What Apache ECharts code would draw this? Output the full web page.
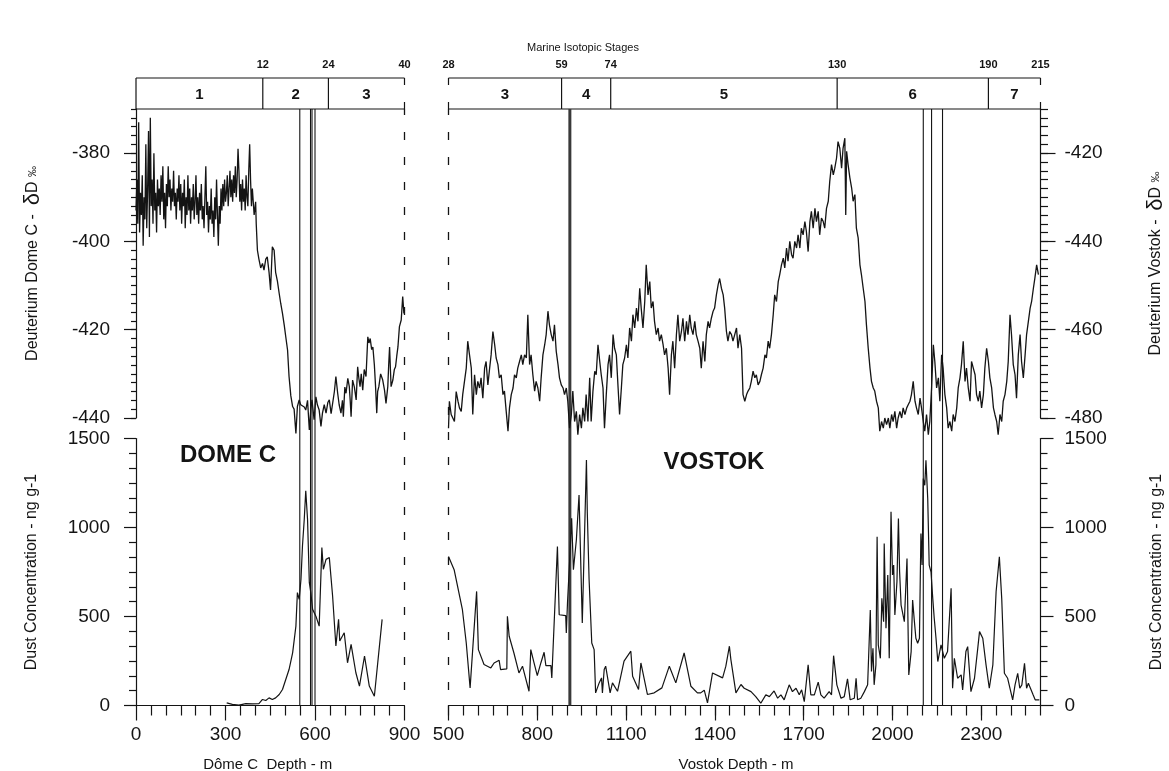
<!DOCTYPE html>
<html>
<head>
<meta charset="utf-8">
<script src="https://cdn.jsdelivr.net/npm/echarts@6/dist/echarts.min.js"></script>
<style>html,body{margin:0;padding:0;background:#fff}#c{width:1169px;height:771px}</style>
</head>
<body>
<div id="c"></div>
<script>
// ---------------- DATA ----------------
// Dome C deuterium (depth m, deltaD permil)
const domeDeuterium = [
[0,-393],[3,-386],[6,-396],[9,-373],[12,-398],[15,-389],[18,-394],[21,-385],[24,-401],[27,-390],[30,-395],[33,-378],[36,-397],[39,-388],[42,-375],[45,-399],[48,-372],[51,-392],[54,-386],[57,-396],[60,-380],[63,-393],[66,-389],[69,-398],[72,-386],[75,-392],[78,-388],[81,-394],[84,-385],[87,-391],[90,-383],[93,-395],[96,-389],[99,-397],[102,-387],[105,-392],[108,-383],[111,-390],[114,-386],[117,-393],[120,-388],[123,-391],[126,-384],[129,-392],[132,-389],[135,-395],[138,-388],[141,-391],[144,-385],[147,-393],[150,-387],[153,-396],[156,-389],[159,-392],[162,-386],[165,-397],[168,-390],[171,-394],[174,-385],[177,-393],[180,-388],[183,-396],[186,-390],[189,-393],[192,-387],[195,-395],[198,-391],[201,-385],[204,-394],[207,-390],[210,-396],[213,-389],[216,-393],[219,-387],[222,-395],[225,-392],[228,-397],[231,-390],[234,-383],[237,-394],[240,-391],[243,-398],[246,-392],[249,-395],[252,-388],[255,-396],[258,-393],[261,-399],[264,-390],[267,-395],[270,-386],[273,-394],[276,-401],[279,-392],[282,-396],[285,-388],[288,-393],[291,-387],[294,-392],[297,-386],[300,-391],[303,-389],[306,-385],[309,-392],[312,-388],[315,-384],[318,-390],[321,-386],[324,-391],[327,-385],[330,-389],[333,-383],[336,-390],[339,-386],[342,-379],[345,-384],[348,-391],[351,-387],[354,-393],[357,-386],[360,-391],[363,-388],[366,-393],[369,-385],[372,-390],[375,-392],[378,-384],[381,-378],[384,-386],[387,-392],[390,-388],
[396,-394],[401,-391],[403,-396],[407,-402],[412,-404],[418,-406],[424,-405],[429,-406.5],[435,-404],[440,-403.5],[446,-407],[451,-411],[457,-401.2],[463,-402],[468,-407],[474,-409],[480,-411.8],[485,-414],[491,-416.3],[497,-419],[502,-421.6],[508,-424.6],[513,-430.6],[519,-435],[525,-437.4],[530,-438],[536,-443.5],[541,-437.4],[547,-435.9],[552,-437],[558,-436.7],[564,-437.5],[569,-438.2],[575,-436],[581,-442.7],[586,-438],[590,-435.9],[597,-440.4],[603,-435.2],[608,-437],[614,-438.2],[620,-441.9],[625,-438.9],[631,-437],[637,-438.9],[643,-436.5],[648,-435.9],[654,-439],[659,-438.9],[665,-434],[670,-430.6],[676,-434.4],[681,-437],[687,-438.9],[692,-436],[695,-439.7],[700,-433],[704,-434.4],[710,-431],[715,-432.9],[718,-436],[721,-439.7],[726,-431.4],[732,-433],[738,-435.9],[743,-428.4],[747,-431],[751,-432.9],[755,-430],[760,-433.7],[765,-429],[771,-430.6],[777,-421.6],[781,-423],[785,-422],[790,-424.5],[794,-423.9],[799,-428],[803,-432.9],[807,-438.9],[810,-434],[814,-432.9],[820,-430],[827,-431.4],[833,-433.7],[838,-436.7],[844,-432.9],[847,-428],[850,-423.9],[855,-432.9],[861,-431.4],[866,-429],[870,-428.4],[874,-426],[878,-423.9],[883,-419.3],[889,-417.8],[894,-412.5],[898,-416.3],[900,-415.5]
];

// Vostok deuterium (depth m, deltaD permil)
const vostokDeuterium = [
[500,-482.3],[503,-476.2],[509,-479.2],[520,-480.8],[526,-474.0],[532,-476.2],[537,-477.7],[543,-478.5],[548,-474.7],[560,-468.7],[565,-462.6],[571,-465.7],[577,-468.7],[582,-479.2],[588,-470.2],[594,-474.7],[599,-471.7],[605,-473.2],[610,-470.9],[616,-475.5],[622,-468.7],[627,-467.2],[633,-472.5],[639,-468.7],[644,-465.7],[650,-460.4],[656,-463.4],[661,-466.4],[667,-467.9],[672,-470.9],[678,-470.2],[684,-474.7],[689,-473.9],[695,-478.5],[701,-483.0],[706,-477.7],[712,-474.7],[718,-473.2],[723,-470.2],[729,-470.9],[734,-468.7],[740,-467.2],[746,-465.7],[751,-467.9],[757,-465.7],[763,-466.4],[768,-456.6],[774,-467.9],[779,-465.7],[785,-470.2],[791,-473.9],[796,-471.7],[802,-473.2],[808,-476.2],[813,-470.9],[819,-465.7],[825,-463.4],[830,-461.1],[836,-455.8],[841,-458.9],[847,-461.1],[853,-462.6],[858,-458.9],[864,-464.9],[870,-467.9],[875,-470.9],[881,-472.5],[887,-473.2],[892,-474.7],[898,-473.2],[903,-476.2],[909,-482.3],[915,-479.2],[920,-473.9],[926,-480.8],[932,-478.5],[937,-483.8],[943,-479.2],[949,-482.3],[954,-477.7],[960,-480.8],[965,-474.7],[971,-480.8],[977,-470.9],[982,-480.8],[988,-473.9],[994,-469.4],[999,-470.2],[1005,-463.4],[1011,-467.2],[1016,-470.2],[1022,-473.2],[1027,-482.3],[1033,-474.7],[1039,-467.9],[1044,-465.7],[1050,-470.9],[1056,-461.1],[1061,-464.2],[1067,-465.7],[1073,-473.2],[1078,-479.2],[1084,-473.2],[1089,-467.9],[1095,-466.4],[1101,-463.4],[1106,-466.4],[1112,-459.6],[1118,-462.6],[1123,-456.6],[1129,-459.6],[1135,-455.1],[1140,-458.1],[1146,-450.6],[1151,-455.1],[1157,-459.6],[1163,-453.6],[1168,-445.3],[1174,-452.1],[1180,-449.1],[1185,-455.1],[1191,-453.6],[1196,-458.1],[1202,-461.1],[1208,-459.6],[1213,-462.6],[1219,-461.1],[1225,-463.4],[1230,-465.7],[1236,-464.2],[1242,-468.7],[1247,-474.7],[1253,-465.7],[1258,-462.6],[1264,-468.7],[1270,-461.1],[1275,-456.6],[1281,-462.6],[1287,-460.4],[1292,-457.4],[1298,-462.6],[1304,-458.1],[1309,-461.1],[1315,-456.6],[1320,-459.6],[1326,-461.1],[1332,-458.1],[1337,-461.1],[1343,-462.6],[1349,-464.2],[1354,-468.7],[1360,-462.6],[1366,-467.2],[1371,-461.1],[1377,-458.1],[1382,-459.6],[1388,-457.4],[1394,-455.8],[1399,-455.1],[1405,-452.1],[1411,-449.8],[1416,-448.4],[1422,-450.6],[1428,-452.1],[1433,-455.1],[1439,-460.4],[1444,-462.6],[1450,-460.4],[1456,-461.1],[1461,-462.6],[1467,-461.1],[1473,-459.6],[1478,-464.2],[1484,-461.1],
[1490,-464.2],[1495,-474.7],[1501,-476.2],[1507,-474.7],[1512,-473.9],[1518,-473.2],[1523,-471.7],[1529,-469.4],[1535,-470.9],[1540,-470.2],[1546,-472.5],[1552,-471.7],[1557,-470.2],[1563,-468.7],[1569,-465.7],[1574,-466.4],[1580,-462.6],[1585,-464.2],[1591,-461.1],[1597,-456.6],[1602,-452.1],[1608,-453.6],[1614,-449.1],[1619,-447.5],[1625,-445.3],[1631,-443.8],[1636,-446.0],[1642,-441.5],[1647,-444.5],[1653,-440.0],[1659,-443.0],[1664,-443.8],[1670,-440.0],[1676,-441.5],[1681,-438.5],[1687,-441.5],[1692,-437.0],[1698,-438.5],[1704,-435.5],[1709,-437.7],[1715,-442.3],[1721,-435.5],[1726,-433.2],[1732,-437.0],[1738,-432.5],[1743,-435.5],[1749,-433.2],[1754,-438.5],[1760,-434.7],[1766,-435.5],[1771,-437.0],[1777,-432.5],[1783,-430.9],[1788,-426.4],[1794,-422.6],[1800,-424.9],[1805,-423.4],[1811,-421.1],[1816,-417.4],[1822,-418.9],[1828,-423.4],[1833,-418.9],[1839,-416.6],[1842,-434.0],[1845,-419.6],[1850,-422.6],[1856,-425.6],[1862,-427.9],[1867,-430.9],[1873,-429.4],[1878,-437.0],[1884,-439.2],[1890,-445.3],[1895,-447.5],[1901,-450.6],[1907,-453.6],[1912,-458.9],[1918,-464.2],[1924,-468.7],[1929,-471.7],[1935,-473.2],[1940,-473.9],[1946,-476.2],[1952,-477.7],[1957,-483.0],[1963,-480.8],[1969,-482.3],[1974,-480.0],[1980,-481.5],[1986,-480.0],[1991,-482.3],[1997,-479.2],[2002,-480.8],[2008,-478.5],[2014,-482.3],[2019,-480.0],[2025,-478.5],[2031,-480.0],[2036,-477.7],[2042,-479.2],[2048,-477.7],[2053,-477.0],[2059,-476.2],[2064,-474.7],[2070,-471.7],[2076,-476.2],[2081,-477.7],[2087,-479.2],[2093,-475.5],[2098,-477.7],[2104,-480.8],[2109,-483.0],[2115,-479.2],[2121,-483.8],[2126,-480.8],[2132,-473.2],[2138,-463.4],[2143,-467.2],[2149,-473.2],[2155,-470.9],[2160,-476.2],[2166,-465.7],[2171,-468.7],[2177,-474.7],[2183,-477.7],[2188,-482.3],[2194,-480.8],[2200,-483.0],[2205,-479.2],[2211,-480.8],[2217,-477.7],[2222,-473.2],[2228,-470.9],[2233,-467.9],[2239,-462.6],[2245,-471.7],[2250,-468.7],[2256,-473.2],[2262,-476.2],[2267,-467.2],[2273,-468.7],[2279,-470.2],[2284,-474.7],[2290,-476.2],[2295,-473.9],[2301,-477.7],[2307,-474.7],[2312,-468.7],[2318,-464.2],[2324,-467.2],[2329,-470.9],[2335,-473.2],[2341,-477.7],[2346,-479.2],[2352,-480.8],[2357,-483.8],[2363,-479.2],[2369,-480.8],[2374,-476.2],[2380,-474.7],[2386,-471.7],[2391,-467.2],[2397,-456.6],[2402,-461.1],[2408,-467.9],[2414,-470.2],[2419,-475.5],[2425,-465.7],[2431,-461.1],[2436,-467.2],[2442,-470.9],[2448,-465.7],[2453,-461.1],[2459,-458.1],[2465,-455.1],[2470,-453.6],[2476,-450.6],[2481,-448.3],[2487,-445.3],[2493,-447.5]
];

// Dome C dust concentration (depth m, ng/g)
const domeDust = [
[304,15],[323,6],[345,2],[368,11],[390,9],[412,11],[424,34],[435,28],[446,43],[457,34],[468,43],[480,62],[491,90],[502,146],[513,202],[525,296],[536,446],[541,634],[547,596],[553,709],[558,896],[564,1046],[569,1206],[575,1046],[581,690],[586,634],[592,540],[603,502],[614,446],[623,887],[628,765],[637,821],[648,831],[659,615],[670,334],[679,484],[683,362],[692,390],[698,409],[709,240],[721,343],[737,184],[749,109],[766,278],[782,109],[799,52],[825,484]
];

// Vostok dust concentration (depth m, ng/g)
const vostokDust = [
[500,837],[519,763],[547,538],[560,351],[573,99],[595,641],[601,314],[620,230],[643,211],[654,239],[671,254],[676,202],[697,206],[699,501],[705,389],[721,295],[738,183],[750,221],[772,80],[778,314],[789,239],[800,168],[812,239],[823,299],[829,224],[846,224],[849,155],[868,893],[874,510],[896,505],[898,407],[902,576],[910,837],[916,1052],[922,763],[932,931],[941,1183],[952,464],[966,1379],[969,1080],[975,706],[984,351],[992,314],[997,71],[1009,127],[1017,155],[1020,71],[1026,202],[1031,221],[1037,211],[1046,71],[1054,127],[1071,80],[1093,249],[1116,305],[1122,164],[1142,90],[1150,239],[1172,62],[1195,71],[1221,99],[1246,221],[1268,127],[1296,295],[1319,108],[1341,71],[1352,71],[1364,86],[1375,15],[1392,183],[1426,155],[1437,221],[1449,333],[1454,258],[1471,71],[1488,118],
[1499,97],[1522,78],[1538,50],[1555,13],[1572,60],[1584,50],[1600,82],[1612,41],[1623,60],[1634,32],[1651,116],[1662,78],[1674,97],[1685,60],[1693,88],[1702,22],[1715,228],[1724,60],[1736,60],[1749,131],[1758,60],[1769,41],[1786,78],[1794,60],[1801,280],[1812,116],[1826,41],[1837,50],[1848,150],[1857,32],[1871,41],[1877,153],[1882,32],[1893,41],[1905,78],[1916,116],[1925,536],[1929,191],[1934,321],[1938,116],[1944,228],[1948,948],[1952,340],[1959,265],[1964,602],[1970,471],[1972,910],[1978,434],[1984,733],[1989,265],[1995,1088],[2000,733],[2004,789],[2008,508],[2015,695],[2020,1050],[2024,751],[2029,564],[2040,471],[2049,826],[2055,172],[2063,303],[2068,592],[2074,471],[2079,378],[2085,350],[2091,378],[2096,966],[2100,789],[2104,1275],[2109,1237],[2113,1377],[2119,1163],[2124,789],[2130,751],[2136,602],[2141,490],[2147,378],[2153,247],[2164,340],[2175,265],[2186,303],[2198,658],[2203,97],[2209,265],[2220,153],[2232,172],[2237,88],[2248,303],[2254,331],[2265,78],[2277,153],[2288,321],[2294,415],[2305,378],[2316,228],[2327,97],[2339,228],[2350,639],[2361,835],[2369,602],[2378,181],[2389,153],[2406,32],[2414,116],[2423,181],[2430,97],[2437,116],[2446,237],[2453,97],[2459,125],[2466,97],[2475,60],[2482,32],[2496,32]
];

// Marine isotopic stages: names, boundary depths (m), boundary ages (ka)
const domeStageNames = ['1', '2', '3'];
const domeStageBounds = [0, 425, 645, 900];
const domeStageAges = ['', '12', '24', '40'];
const vostokStageNames = ['3', '4', '5', '6', '7'];
const vostokStageBounds = [500, 882, 1048, 1813, 2324, 2500];
const vostokStageAges = ['28', '59', '74', '130', '190', '215'];

// Event marker depths (m)
const domeEventDepths = [549, 585, 590, 600];
const vostokThickEventDepths = [910];
const vostokEventDepths = [2104, 2132, 2169];
const domeLimitDepths = [900];
const vostokLimitDepths = [500];

// Tick values
const domeDeutTicks = [-440, -420, -400, -380];
const vostokDeutTicks = [-480, -460, -440, -420];
const dustTicks = [0, 500, 1000, 1500];
const domeDepthTicks = [0, 300, 600, 900];
const vostokDepthTicks = [500, 800, 1100, 1400, 1700, 2000, 2300];

// ---------------- CHART ----------------
const F = "'Liberation Sans', Arial, Helvetica, sans-serif";
const INK = '#141414';
const chart = echarts.init(document.getElementById('c'), null, {renderer: 'canvas', width: 1169, height: 771});

const lineSt = {color: INK, width: 1.2};
const DASH = [8, 17];
const plain = v => String(v);

function hiddenAxis(grid, min, max) {
  return {type: 'value', gridIndex: grid, min: min, max: max, show: false, splitLine: {show: false}};
}
function minorAxis(grid, pos, min, max, interval, len) {
  return {type: 'value', gridIndex: grid, position: pos, min: min, max: max, interval: interval,
    axisLine: {show: false, onZero: false}, axisTick: {show: true, length: len, lineStyle: lineSt},
    axisLabel: {show: false}, splitLine: {show: false}};
}
function labelStyle(margin, values) {
  const o = {show: true, margin: margin, fontSize: 19, fontFamily: F, color: INK, formatter: plain};
  if (values) o.customValues = values;
  return o;
}
const nameRich = {
  a: {fontSize: 16, fontFamily: F, color: INK},
  b: {fontSize: 22, fontFamily: F, color: INK},
  c: {fontSize: 11, fontFamily: F, color: INK}
};

function stageRender(names, ages, dashedLeft) {
  return function (params, api) {
    const i = api.value(2);
    const a = api.coord([api.value(0), 1]);
    const b = api.coord([api.value(1), 0]);
    const solid = {stroke: INK, lineWidth: 1.2};
    const dashed = {stroke: INK, lineWidth: 1.2, lineDash: [7, 17]};
    const ch = [
      {type: 'line', shape: {x1: a[0], y1: a[1], x2: b[0], y2: a[1]}, style: solid},
      {type: 'line', shape: {x1: a[0], y1: b[1], x2: b[0], y2: b[1]}, style: solid},
      {type: 'text', x: (a[0] + b[0]) / 2, y: (a[1] + b[1]) / 2 + 1,
        style: {text: names[i], align: 'center', verticalAlign: 'middle', fontSize: 15, fontWeight: 'bold', fontFamily: F, fill: INK}},
      {type: 'text', x: b[0], y: a[1] - 13,
        style: {text: ages[i + 1], align: 'center', verticalAlign: 'middle', fontSize: 11, fontWeight: 'bold', fontFamily: F, fill: INK}},
      {type: 'line', shape: {x1: a[0], y1: a[1], x2: a[0], y2: b[1]}, style: (i === 0 && dashedLeft) ? dashed : solid}
    ];
    if (i === 0 && ages[0]) {
      ch.push({type: 'text', x: a[0], y: a[1] - 13,
        style: {text: ages[0], align: 'center', verticalAlign: 'middle', fontSize: 11, fontWeight: 'bold', fontFamily: F, fill: INK}});
    }
    if (i === names.length - 1) {
      ch.push({type: 'line', shape: {x1: b[0], y1: a[1], x2: b[0], y2: b[1]}, style: dashed});
    }
    return {type: 'group', children: ch};
  };
}
function vlineRender(color, width, dash) {
  return function (params, api) {
    const t = api.coord([api.value(0), 1]);
    const btm = api.coord([api.value(0), 0]);
    const st = {stroke: color, lineWidth: width};
    if (dash) { st.lineDash = dash; st.lineDashOffset = 2; }
    return {type: 'line', shape: {x1: t[0], y1: t[1], x2: btm[0], y2: btm[1]}, style: st};
  };
}
function stageData(names, bounds) {
  return names.map((n, i) => [bounds[i], bounds[i + 1], i]);
}

const gridBase = {outerBoundsMode: 'none', containLabel: false, show: false};
const option = {
  animation: false,
  backgroundColor: '#ffffff',
  textStyle: {fontFamily: F},
  grid: [
    Object.assign({left: 136, top: 109, width: 268.5, height: 309}, gridBase),   // 0 Dome C deuterium
    Object.assign({left: 448.5, top: 109, width: 592, height: 309}, gridBase),   // 1 Vostok deuterium
    Object.assign({left: 136, top: 438.5, width: 268.5, height: 267}, gridBase), // 2 Dome C dust
    Object.assign({left: 448.5, top: 438.5, width: 592, height: 267}, gridBase), // 3 Vostok dust
    Object.assign({left: 136, top: 78, width: 268.5, height: 31}, gridBase),     // 4 Dome C stages
    Object.assign({left: 448.5, top: 78, width: 592, height: 31}, gridBase),     // 5 Vostok stages
    Object.assign({left: 136, top: 109, width: 268.5, height: 596.5}, gridBase), // 6 Dome C overlay
    Object.assign({left: 448.5, top: 109, width: 592, height: 596.5}, gridBase)  // 7 Vostok overlay
  ],
  xAxis: [
    hiddenAxis(0, 0, 900),       // 0
    hiddenAxis(1, 500, 2500),    // 1
    {                            // 2 Dome C depth
      type: 'value', gridIndex: 2, position: 'bottom', min: 0, max: 900, interval: 300,
      axisLine: {show: true, onZero: false, lineStyle: lineSt},
      axisTick: {show: true, length: 15, customValues: domeDepthTicks, lineStyle: lineSt},
      minorTick: {show: true, splitNumber: 6, length: 10, lineStyle: lineSt},
      axisLabel: labelStyle(20, domeDepthTicks),
      splitLine: {show: false}, minorSplitLine: {show: false},
      name: 'Dôme C  Depth - m', nameLocation: 'middle', nameGap: 52,
      nameTextStyle: {fontSize: 15, fontFamily: F, color: INK, padding: [0, 5, 0, 0]}
    },
    {                            // 3 Vostok depth
      type: 'value', gridIndex: 3, position: 'bottom', min: 500, max: 2500,
      axisLine: {show: true, onZero: false, lineStyle: lineSt},
      axisTick: {show: true, length: 15, customValues: vostokDepthTicks, lineStyle: lineSt},
      axisLabel: labelStyle(20, vostokDepthTicks),
      splitLine: {show: false},
      name: 'Vostok Depth - m', nameLocation: 'middle', nameGap: 52,
      nameTextStyle: {fontSize: 15, fontFamily: F, color: INK, padding: [0, 17, 0, 0]}
    },
    minorAxis(3, 'bottom', 500, 2500, 50, 10), // 4 Vostok minor ticks
    hiddenAxis(4, 0, 900),       // 5
    hiddenAxis(5, 500, 2500),    // 6
    hiddenAxis(6, 0, 900),       // 7
    hiddenAxis(7, 500, 2500)     // 8
  ],
  yAxis: [
    {                            // 0 Dome C deuterium
      type: 'value', gridIndex: 0, position: 'left', min: -440, max: -370,
      axisLine: {show: true, onZero: false, lineStyle: lineSt},
      axisTick: {show: true, length: 12, customValues: domeDeutTicks, lineStyle: lineSt},
      axisLabel: labelStyle(26, domeDeutTicks),
      splitLine: {show: false},
      name: '{a|Deuterium Dome C -  }{b|δ}{a|D }{c|‰}', nameLocation: 'middle', nameRotate: 90, nameGap: 92,
      nameTextStyle: {color: INK, fontFamily: F, fontSize: 16, rich: nameRich}
    },
    minorAxis(0, 'left', -440, -370, 2, 5),   // 1
    {                            // 2 Vostok deuterium
      type: 'value', gridIndex: 1, position: 'right', min: -480, max: -410,
      axisLine: {show: true, onZero: false, lineStyle: lineSt},
      axisTick: {show: true, length: 15, customValues: vostokDeutTicks, lineStyle: lineSt},
      axisLabel: labelStyle(24, vostokDeutTicks),
      splitLine: {show: false},
      name: '{a|Deuterium Vostok -  }{b|δ}{a|D }{c|‰}', nameLocation: 'middle', nameRotate: 90, nameGap: 104,
      nameTextStyle: {color: INK, fontFamily: F, fontSize: 16, rich: nameRich}
    },
    minorAxis(1, 'right', -480, -410, 2, 7.5), // 3
    {                            // 4 Dome C dust
      type: 'value', gridIndex: 2, position: 'left', min: 0, max: 1500, interval: 500,
      axisLine: {show: true, onZero: false, lineStyle: lineSt},
      axisTick: {show: true, length: 12, lineStyle: lineSt},
      minorTick: {show: true, splitNumber: 6, length: 7, lineStyle: lineSt},
      axisLabel: labelStyle(26, dustTicks),
      splitLine: {show: false}, minorSplitLine: {show: false},
      name: 'Dust Concentration - ng g-1', nameLocation: 'middle', nameRotate: 90, nameGap: 96,
      nameTextStyle: {color: INK, fontFamily: F, fontSize: 16}
    },
    {                            // 5 Vostok dust
      type: 'value', gridIndex: 3, position: 'right', min: 0, max: 1500, interval: 500,
      axisLine: {show: true, onZero: false, lineStyle: lineSt},
      axisTick: {show: true, length: 13, lineStyle: lineSt},
      minorTick: {show: true, splitNumber: 6, length: 7, lineStyle: lineSt},
      axisLabel: labelStyle(24, dustTicks),
      splitLine: {show: false}, minorSplitLine: {show: false},
      name: 'Dust Concentration - ng g-1', nameLocation: 'middle', nameRotate: 90, nameGap: 108,
      nameTextStyle: {color: INK, fontFamily: F, fontSize: 16}
    },
    hiddenAxis(4, 0, 1),  // 6
    hiddenAxis(5, 0, 1),  // 7
    hiddenAxis(6, 0, 1),  // 8
    hiddenAxis(7, 0, 1)   // 9
  ],
  graphic: [
    {type: 'text', x: 583, y: 48, style: {text: 'Marine Isotopic Stages', align: 'center', verticalAlign: 'middle', fontSize: 11, fontFamily: F, fill: INK}},
    {type: 'text', x: 228, y: 455, style: {text: 'DOME C', align: 'center', verticalAlign: 'middle', fontSize: 24, fontWeight: 'bold', fontFamily: F, fill: INK}},
    {type: 'text', x: 714, y: 462, style: {text: 'VOSTOK', align: 'center', verticalAlign: 'middle', fontSize: 24, fontWeight: 'bold', fontFamily: F, fill: INK}}
  ],
  series: [
    {type: 'line', name: 'Dome C deuterium', xAxisIndex: 0, yAxisIndex: 0, data: domeDeuterium,
      showSymbol: false, symbol: 'none', clip: false, lineStyle: {color: INK, width: 1.3}},
    {type: 'line', name: 'Vostok deuterium', xAxisIndex: 1, yAxisIndex: 2, data: vostokDeuterium,
      showSymbol: false, symbol: 'none', clip: false, lineStyle: {color: INK, width: 1.3}},
    {type: 'line', name: 'Dome C dust', xAxisIndex: 2, yAxisIndex: 4, data: domeDust,
      showSymbol: false, symbol: 'none', clip: false, lineStyle: {color: INK, width: 1.2}},
    {type: 'line', name: 'Vostok dust', xAxisIndex: 3, yAxisIndex: 5, data: vostokDust,
      showSymbol: false, symbol: 'none', clip: false, lineStyle: {color: INK, width: 1.2}},
    {type: 'custom', name: 'Dome C stages', xAxisIndex: 5, yAxisIndex: 6, clip: false,
      encode: {x: [0, 1], y: 2},
      data: stageData(domeStageNames, domeStageBounds), renderItem: stageRender(domeStageNames, domeStageAges, false)},
    {type: 'custom', name: 'Vostok stages', xAxisIndex: 6, yAxisIndex: 7, clip: false,
      encode: {x: [0, 1], y: 2},
      data: stageData(vostokStageNames, vostokStageBounds), renderItem: stageRender(vostokStageNames, vostokStageAges, true)},
    {type: 'custom', name: 'Dome C events', xAxisIndex: 7, yAxisIndex: 8, clip: false,
      data: domeEventDepths.map(d => [d, 0]), renderItem: vlineRender(INK, 1.1, null)},
    {type: 'custom', name: 'Dome C limit', xAxisIndex: 7, yAxisIndex: 8, clip: false,
      data: domeLimitDepths.map(d => [d, 0]), renderItem: vlineRender(INK, 1.3, DASH)},
    {type: 'custom', name: 'Vostok thick event', xAxisIndex: 8, yAxisIndex: 9, clip: false,
      data: vostokThickEventDepths.map(d => [d, 0]), renderItem: vlineRender('#3a3a3a', 3, null)},
    {type: 'custom', name: 'Vostok events', xAxisIndex: 8, yAxisIndex: 9, clip: false,
      data: vostokEventDepths.map(d => [d, 0]), renderItem: vlineRender(INK, 1.1, null)},
    {type: 'custom', name: 'Vostok limit', xAxisIndex: 8, yAxisIndex: 9, clip: false,
      data: vostokLimitDepths.map(d => [d, 0]), renderItem: vlineRender(INK, 1.3, DASH)}
  ]
};
chart.setOption(option);
</script>
</body>
</html>
